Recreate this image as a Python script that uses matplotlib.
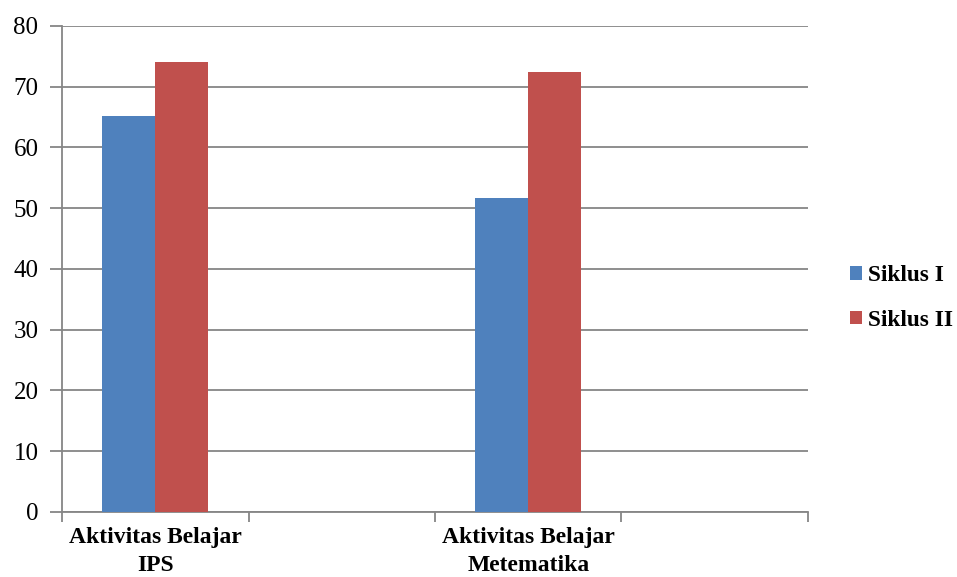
import numpy as np
import matplotlib.pyplot as plt

categories = ['Aktivitas Belajar\nIPS', '', 'Aktivitas Belajar\nMetematika', '']
siklus_1 = [65.1, np.nan, 51.7, np.nan]
siklus_2 = [74.1, np.nan, 72.5, np.nan]
series_names = ['Siklus I', 'Siklus II']
y_ticks = [0, 10, 20, 30, 40, 50, 60, 70, 80]

blue = '#4F81BD'
red = '#C0504D'
grid_col = '#868686'

plt.rcParams['font.family'] = ['Liberation Serif', 'DejaVu Serif']

fig = plt.figure(figsize=(9.57, 5.77), dpi=100)
ax = fig.add_axes([0.0648, 0.1127, 0.7795, 0.8423])

x = np.arange(len(categories))
w = 0.285
ax.bar(x - w / 2, siklus_1, w, color=blue, label=series_names[0], zorder=3)
ax.bar(x + w / 2, siklus_2, w, color=red, label=series_names[1], zorder=3)

ax.set_xlim(-0.5, len(categories) - 0.5)
ax.set_ylim(0, 80)
ax.set_yticks(y_ticks)
ax.yaxis.grid(True, color=grid_col, linewidth=1.3, zorder=0)
ax.tick_params(axis='y', length=9, width=1.3, color=grid_col, labelsize=18, pad=8)

ax.set_xticks(np.arange(len(categories) + 1) - 0.5)
ax.set_xticklabels([])
ax.set_xticks(x, minor=True)
ax.set_xticklabels(categories, minor=True, fontweight='bold', fontsize=17, linespacing=1.4)
ax.tick_params(axis='x', which='major', length=7, width=1.3, color=grid_col, direction='out')
ax.tick_params(axis='x', which='minor', length=0, pad=11)

for side in ['top', 'right']:
    ax.spines[side].set_visible(False)
for side in ['left', 'bottom']:
    ax.spines[side].set_color(grid_col)
    ax.spines[side].set_linewidth(1.3)

leg = fig.legend(*ax.get_legend_handles_labels(), loc='center left',
                 bbox_to_anchor=(850 / 957, 1 - 298 / 577), frameon=False,
                 prop={'weight': 'bold', 'size': 16.8}, handlelength=0.5, handleheight=0.5,
                 handletextpad=0.25, labelspacing=1.0, borderpad=0, borderaxespad=0)

fig.savefig('out.png', dpi=100)
